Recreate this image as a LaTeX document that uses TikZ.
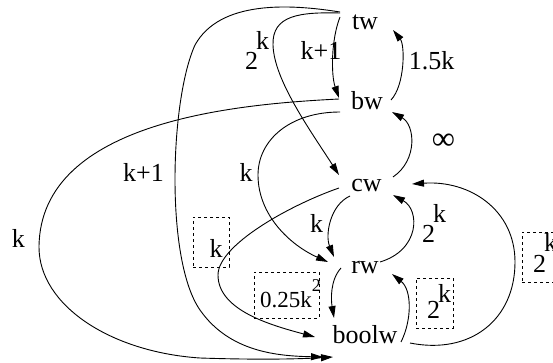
\documentclass[tikz,border=0pt]{standalone}
\usepackage{fontspec}
\setmainfont{Liberation Serif}
\usetikzlibrary{arrows.meta}
\newcommand\twok[1]{2\kern-2pt\raisebox{#1}{k}}
\begin{document}
\begin{tikzpicture}[x=1pt,y=-1pt,
  every node/.style={inner sep=0pt,outer sep=0pt},
  txt/.style={font=\fontsize{26}{30}\selectfont,anchor=base},
  txtw/.style={font=\fontsize{26}{30}\selectfont,anchor=base west},
  conn/.style={line width=0.9pt,-{Triangle[length=12pt,width=7pt]}},
  dbox/.style={draw,line width=0.8pt,dash pattern=on 3pt off 3pt}]
\useasboundingbox (0,0) rectangle (553,363);
% main nodes
\node[txt] (tw) at (365,30) {tw};
\node[txt] (bw) at (367,110) {bw};
\node[txt] (cw) at (366.5,192) {cw};
\node[txt] (rw) at (365,273) {rw};
\node[txt] (boolw) at (365,343) {boolw};
% dashed boxes
\node[dbox,minimum width=36pt,minimum height=50pt] (bk) at (211,242) {};
\node[dbox,minimum width=65pt,minimum height=46pt] (bq) at (286.5,295) {};
\node[dbox,minimum width=37pt,minimum height=50pt] (bb) at (434.5,303) {};
\node[dbox,minimum width=42pt,minimum height=50pt] (br) at (543,257) {};
% labels
\node[txt] (l1) at (321,60) {k+1};
\node[txtw] (l2) at (245,70) {\twok{20pt}};
\node[txt] (l3) at (431.5,70) {1.5k};
\node[txt] (l4) at (443.5,150) {\scalebox{1.25}{∞}};
\node[txt] (l5) at (143.5,182) {k+1};
\node[txt] (l6) at (18.5,247) {k};
\node[txt] (l7) at (246,182) {k};
\node[txt] (l8) at (216,257) {k};
\node[txt] (l9) at (316.5,232) {k};
\node[txtw] (l10) at (422,242) {\twok{20pt}};
\node[anchor=base west,font=\fontsize{23}{26}\selectfont] (l11) at (260,307) {0.25k\raisebox{16pt}{\fontsize{18}{20}\selectfont 2}};
\node[txtw] (l12) at (427,318) {\twok{16pt}};
\node[txtw] (l13) at (533,272) {\twok{21pt}};
% connectors
\draw[conn] ([shift={(-25,-13)}]tw.base) .. controls (331,40) and (331,75) .. ([shift={(-28,-12)}]bw.base);
\draw[conn] ([shift={(24,-10)}]bw.base) .. controls (405,85) and (405,45) .. ([shift={(28,0)}]tw.base);
\draw[conn] ([shift={(26.5,-15)}]cw.base) .. controls (418,160) and (415,125) .. ([shift={(25,2)}]bw.base);
\draw[conn] ([shift={(-25,-17)}]tw.base) .. controls (300,12) and (272,15) .. (273,45)
   .. controls (274,80) and (310,130) .. ([shift={(-27.5,-17)}]cw.base);
\draw[conn] ([shift={(-25,-18)}]tw.base) .. controls (290,4) and (220,0) .. (195,45)
   .. controls (170,100) and (165,260) .. (200,310)
   .. controls (230,353) and (280,356) .. ([shift={(-42,14)}]boolw.base);
\draw[conn] ([shift={(-28,-11)}]bw.base) .. controls (240,104) and (40,120) .. (39,247)
   .. controls (39,305) and (110,352) .. (200,358)
   .. controls (260,360) and (300,359) .. ([shift={(-32,14)}]boolw.base);
\draw[conn] ([shift={(-27,2)}]bw.base) .. controls (290,112) and (258,140) .. (258,175)
   .. controls (258,215) and (290,245) .. ([shift={(-37,-11)}]rw.base);
\draw[conn] ([shift={(-27.5,-4)}]cw.base) .. controls (290,205) and (218,245) .. (218,275)
   .. controls (218,310) and (270,325) .. ([shift={(-50,-6)}]boolw.base);
\draw[conn] ([shift={(-16.5,4)}]cw.base) .. controls (330,205) and (325,235) .. ([shift={(-31,-16)}]rw.base);
\draw[conn] ([shift={(15,-11)}]rw.base) .. controls (420,250) and (420,210) .. ([shift={(26.5,3)}]cw.base);
\draw[conn] ([shift={(45,0)}]boolw.base) .. controls (470,355) and (515,320) .. (515,262)
   .. controls (515,210) and (470,180) .. ([shift={(45.5,-8)}]cw.base);
\draw[conn] ([shift={(-24,-5)}]rw.base) .. controls (330,280) and (331,300) .. ([shift={(-31,-25)}]boolw.base);
\draw[conn] ([shift={(36,-1)}]boolw.base) .. controls (412,320) and (412,290) .. ([shift={(27,1)}]rw.base);
\end{tikzpicture}
\end{document}
